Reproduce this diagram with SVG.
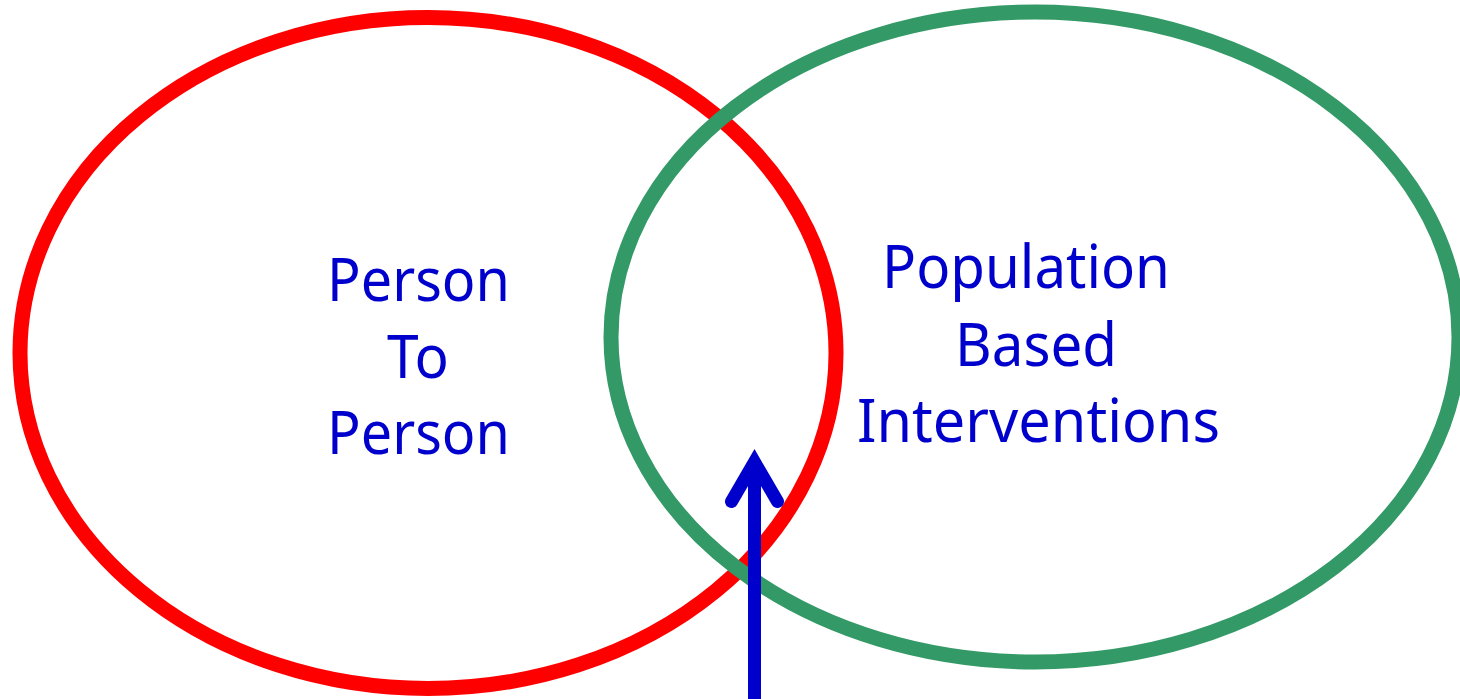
<svg xmlns="http://www.w3.org/2000/svg" width="1460" height="699" viewBox="0 0 1460 699">
<style>
.lbl{font-family:"Noto Sans","DejaVu Sans","Liberation Sans",sans-serif;font-size:61px;fill:#0000CC}
.ring{fill:none;stroke-width:15}
</style>
<rect width="1460" height="699" fill="#fff"/>
<g id="person-to-person">
<ellipse class="ring" cx="428" cy="353" rx="408" ry="335.5" stroke="#FF0000"/>
<text class="lbl" x="327" y="301" textLength="183" lengthAdjust="spacingAndGlyphs">Person</text>
<text class="lbl" x="387" y="378" textLength="62" lengthAdjust="spacingAndGlyphs">To</text>
<text class="lbl" x="327" y="454" textLength="183" lengthAdjust="spacingAndGlyphs">Person</text>
</g>
<g id="population-based">
<ellipse class="ring" cx="1035" cy="337" rx="424" ry="325" stroke="#339966"/>
<text class="lbl" x="882" y="288" textLength="288" lengthAdjust="spacingAndGlyphs">Population</text>
<text class="lbl" x="955" y="366" textLength="162" lengthAdjust="spacingAndGlyphs">Based</text>
<text class="lbl" x="857" y="442" textLength="363" lengthAdjust="spacingAndGlyphs">Interventions</text>
</g>
<g id="connectors" stroke="#0000CC" stroke-width="13" fill="none">
<line x1="754.5" y1="699" x2="754.5" y2="470"/>
<polyline points="731.5,501.5 754.5,462 777.5,501.5" stroke-linecap="round" stroke-linejoin="miter" stroke-miterlimit="10"/>
</g>
</svg>
